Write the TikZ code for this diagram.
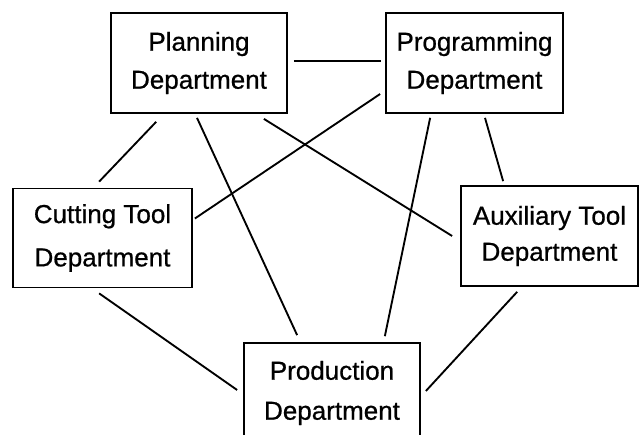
\documentclass[tikz,border=0pt]{standalone}
\usepackage{fontspec}
\setmainfont{Liberation Sans}[BoldFont={Liberation Sans}, BoldFeatures={FakeBold=0.7}]
\usetikzlibrary{calc}
\begin{document}
\begin{tikzpicture}[x=0.75pt,y=-0.75pt,
  dept/.style={draw=black, line width=1.3pt, inner sep=0pt,
    minimum width=132pt, minimum height=75pt, align=center,
    font=\bfseries\fontsize{19.5}{28.5}\selectfont},
  link/.style={draw=black, line width=1.4pt}]
\clip (0,0) rectangle (640,435);
\fill[white] (0,0) rectangle (640,435);
\node[dept] (plan) at (199,63) {Planning\\Department};
\node[dept, minimum width=132.75pt] (prog) at (474.5,63) {Programming\\Department};
\node[dept, minimum width=134.25pt, minimum height=74.25pt,
  font=\bfseries\fontsize{19.5}{32.5}\selectfont] (cut) at (102.5,238) {Cutting Tool\\Department};
\node[dept, minimum width=132.75pt,
  font=\bfseries\fontsize{19.5}{27}\selectfont] (aux) at (549.5,236) {Auxiliary Tool\\Department};
\node[dept, font=\bfseries\fontsize{19.5}{30}\selectfont] (prod) at (332,393) {Production\\Department};
% connectors
\draw[link] ($(plan.east)+(6,-2)$) -- ($(prog.west)+(-4,-2)$);
\draw[link] ($(plan.south west)+(46,8)$) -- ($(cut.north west)+(87,-6)$);
\draw[link] ($(plan.south)+(-2,4)$) -- ($(prod.north west)+(54,-7)$);
\draw[link] ($(plan.south east)+(-24,5)$) -- ($(aux.west)+(-8,0)$);
\draw[link] ($(prog.west)+(-5,31)$) -- ($(cut.east)+(2,-19.5)$);
\draw[link] ($(prog.south west)+(45,4)$) -- ($(prod.north east)+(-36,-6)$);
\draw[link] ($(prog.south)+(10.5,4)$) -- ($(aux.north west)+(43,-4)$);
\draw[link] ($(cut.south west)+(87,5)$) -- ($(prod.west)+(-6,-3)$);
\draw[link] ($(aux.south west)+(57,5)$) -- ($(prod.east)+(5,-2)$);
\end{tikzpicture}
\end{document}
